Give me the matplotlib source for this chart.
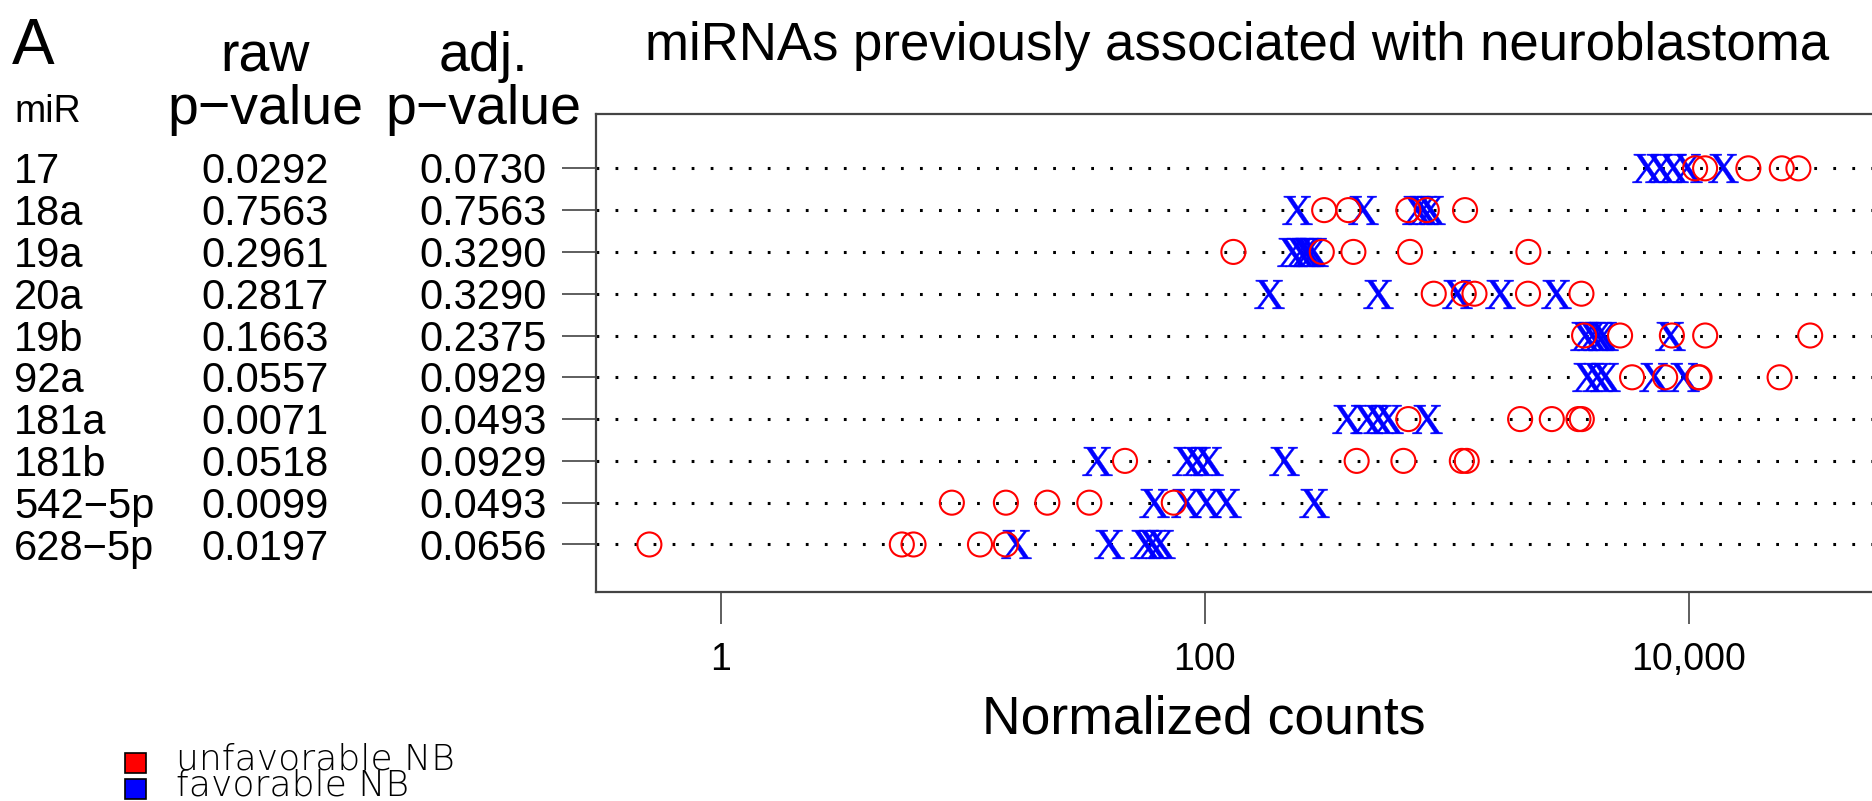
import numpy as np
import matplotlib
matplotlib.use("Agg")
import matplotlib.pyplot as plt
from matplotlib import transforms
from matplotlib.textpath import TextPath
from matplotlib.font_manager import FontProperties
from matplotlib.patches import Rectangle

plt.rcParams['font.family'] = ['Liberation Sans', 'DejaVu Sans']
plt.rcParams['lines.scale_dashes'] = False

# miRNA table (top row first)
mirs = ['17', '18a', '19a', '20a', '19b', '92a', '181a', '181b', '542\u22125p', '628\u22125p']
raw_p = [0.0292, 0.7563, 0.2961, 0.2817, 0.1663, 0.0557, 0.0071, 0.0518, 0.0099, 0.0197]
adj_p = [0.0730, 0.7563, 0.3290, 0.3290, 0.2375, 0.0929, 0.0493, 0.0929, 0.0493, 0.0656]

# normalized counts per sample, unfavorable NB
unfav = [
    [10640, 11700, 17660, 24270, 28430],
    [312, 393, 695, 828, 1192],
    [131.5, 305, 412, 706, 2178],
    [885, 1177, 1304, 2170, 3608],
    [3700, 5210, 8530, 11710, 31800],
    [5840, 8000, 10990, 11100, 23770],
    [695, 2013, 2721, 3506, 3620],
    [46.9, 425, 663, 1156, 1211],
    [9.03, 15.1, 22.4, 33.4, 74.6],
    [0.508, 5.61, 6.27, 11.8, 15.1],
]
# normalized counts per sample, favorable NB
fav = [
    [6760, 7620, 8650, 9830, 13840],
    [240, 453, 753, 802, 855],
    [229, 248, 260, 268, 281],
    [184, 521, 1107, 1664, 2827],
    [3735, 3993, 4227, 4433, 8390],
    [3805, 4185, 4520, 7210, 9590],
    [387, 468, 523, 575, 829],
    [35.9, 84.4, 92.8, 103.7, 212],
    [61.8, 83.9, 101.5, 122.7, 283],
    [16.7, 40.3, 56.7, 60.7, 65.5],
]

xticks = [1, 100, 10000]
xticklabels = ['1', '100', '10,000']

W, H = 1872, 801
fig = plt.figure(figsize=(W / 100, H / 100), dpi=100)


def fx(px):
    return px / W


def fy(py):
    return 1 - py / H


# plot box runs off the right edge of the figure
ax = fig.add_axes([fx(595.7), fy(591.7), fx(1979 - 595.7), (591.7 - 114) / H])
ax.set_xscale('log')
ax.set_xlim(10 ** -0.516, 10 ** 5.2)
ax.set_ylim(-0.13, 11.30)

n = len(mirs)
rows = np.arange(n, 0, -1)

# dotted guide lines
for y in rows:
    ax.axhline(y, color='black', lw=2.2, linestyle=(0, (2.0, 11.7)),
               dash_capstyle='butt', zorder=1)

# serif "X" marker for favorable samples
xp = TextPath((0, 0), 'X', prop=FontProperties(family='Liberation Serif'))
ext = xp.get_extents()
xmarker = xp.transformed(transforms.Affine2D().translate(-(ext.x0 + ext.x1) / 2,
                                                         -(ext.y0 + ext.y1) / 2))

for y, vals in zip(rows, fav):
    ax.scatter(vals, np.full(len(vals), y), marker=xmarker, s=23 ** 2,
               color='#0000ff', edgecolors='#0000ff', linewidths=0.3, zorder=2)
for y, vals in zip(rows, unfav):
    ax.scatter(vals, np.full(len(vals), y), marker='o', s=17.3 ** 2,
               facecolors='none', edgecolors='#ff0000', linewidths=1.5, zorder=3)

for side in ['left', 'top', 'bottom', 'right']:
    ax.spines[side].set_color('#444444')
    ax.spines[side].set_linewidth(1.6)

ax.set_xticks(xticks)
ax.set_xticklabels(xticklabels)
ax.xaxis.set_minor_locator(matplotlib.ticker.NullLocator())
ax.tick_params(axis='x', direction='out', length=23, width=1.1, color='#333333',
               pad=13, labelsize=27)
ax.set_yticks(rows)
ax.tick_params(axis='y', direction='out', length=24.5, width=1.1, color='#333333',
               labelleft=False)

ax.set_xlabel('Normalized counts', fontsize=38.5)
ax.xaxis.set_label_coords(fx(1204), fy(734), transform=fig.transFigure)
ax.xaxis.label.set_va('baseline')

# table to the left of the plot
blend = transforms.blended_transform_factory(fig.transFigure, ax.transData)
for y, m, r, a in zip(rows, mirs, raw_p, adj_p):
    yb = y - 0.36
    fig.text(fx(14), yb, m, transform=blend, ha='left', va='baseline', fontsize=30)
    fig.text(fx(265), yb, f'{r:.4f}', transform=blend, ha='center', va='baseline', fontsize=30)
    fig.text(fx(483), yb, f'{a:.4f}', transform=blend, ha='center', va='baseline', fontsize=30)

fig.text(fx(12), fy(64), 'A', ha='left', va='baseline', fontsize=46)
fig.text(fx(14), fy(122), 'miR', ha='left', va='baseline', fontsize=27)
fig.text(fx(265), fy(71), 'raw', ha='center', va='baseline', fontsize=40)
fig.text(fx(265), fy(124), 'p\u2212value', ha='center', va='baseline', fontsize=40)
fig.text(fx(483), fy(71), 'adj.', ha='center', va='baseline', fontsize=40)
fig.text(fx(483), fy(124), 'p\u2212value', ha='center', va='baseline', fontsize=40)

fig.text(fx(1237), fy(60), 'miRNAs previously associated with neuroblastoma',
         ha='center', va='baseline', fontsize=38)

# group key
for py, col, label in [(753, '#ff0000', 'unfavorable NB'), (779, '#0000ff', 'favorable NB')]:
    fig.patches.append(Rectangle((fx(125), fy(py + 20)), fx(21), 20 / H,
                                 facecolor=col, edgecolor='black', lw=1.2,
                                 transform=fig.transFigure, figure=fig))
    fig.text(fx(176), fy(py + 16), label, ha='left', va='baseline', fontsize=26,
             family=['DejaVu Sans'], fontweight='light', color='black')

fig.savefig('out.png', dpi=100)
